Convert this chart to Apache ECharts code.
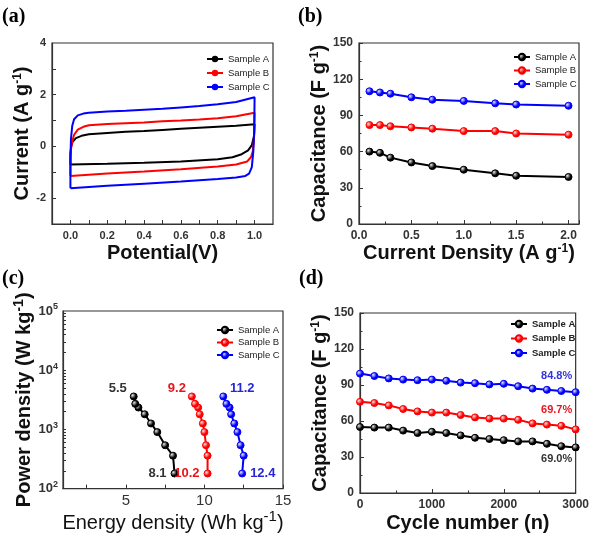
<!DOCTYPE html>
<html lang="en">
<head>
  <meta charset="UTF-8">
  <title>supercapacitor</title>
  <style>
    * { margin: 0; padding: 0; }
    #main { width: 592px; height: 534px; background: #fff; }
  </style>
</head>
<body>
  <div id="main"></div>
  <script src="https://cdn.jsdelivr.net/npm/echarts@6/dist/echarts.min.js"></script>
  <script>
    // ---- data ----
    var samples = ['Sample A', 'Sample B', 'Sample C'];
    var colors = ['#000000', '#ff0000', '#0000ff'];

    // (a) CV loops [potential, current]
    var cvA = [[0.0,-0.70],[0.0,-0.30],[0.004,0.0],[0.012,0.18],[0.03,0.32],[0.06,0.41],[0.1,0.47],[0.2,0.52],[0.3,0.57],[0.4,0.60],[0.5,0.64],[0.6,0.68],[0.7,0.72],[0.8,0.76],[0.9,0.80],[1.0,0.86],
               [0.997,0.40],[0.985,0.05],[0.965,-0.15],[0.93,-0.30],[0.88,-0.42],[0.8,-0.50],[0.6,-0.58],[0.4,-0.63],[0.2,-0.67],[0.0,-0.70]];
    var cvB = [[0.0,-1.14],[0.0,-0.40],[0.004,-0.05],[0.01,0.20],[0.02,0.45],[0.04,0.65],[0.07,0.76],[0.1,0.82],[0.2,0.87],[0.3,0.90],[0.4,0.93],[0.5,0.97],[0.6,1.00],[0.7,1.04],[0.8,1.09],[0.9,1.17],[1.0,1.30],
               [0.997,0.30],[0.99,-0.20],[0.98,-0.42],[0.96,-0.58],[0.9,-0.70],[0.8,-0.78],[0.6,-0.88],[0.4,-0.97],[0.2,-1.05],[0.0,-1.14]];
    var cvC = [[0.0,-1.62],[0.0,-0.50],[0.003,0.30],[0.01,0.80],[0.02,1.05],[0.04,1.20],[0.07,1.27],[0.1,1.30],[0.2,1.35],[0.3,1.38],[0.4,1.42],[0.5,1.46],[0.6,1.51],[0.7,1.56],[0.8,1.63],[0.9,1.72],[1.0,1.90],
               [0.998,0.60],[0.993,-0.20],[0.985,-0.80],[0.97,-1.05],[0.95,-1.14],[0.9,-1.20],[0.8,-1.26],[0.6,-1.36],[0.4,-1.44],[0.2,-1.52],[0.0,-1.62]];
    var aTicksX = [0, 0.1, 0.2, 0.3, 0.4, 0.5, 0.6, 0.7, 0.8, 0.9, 1.0];
    var aLabelsX = [0, 0.2, 0.4, 0.6, 0.8, 1.0];
    var aTicksY = [-2, -1, 0, 1, 2, 3];
    var aLabelsY = [-2, 0, 2, 4];

    // (b) rate capability
    var density = [0.1, 0.2, 0.3, 0.5, 0.7, 1.0, 1.3, 1.5, 2.0];
    var capA = [60, 59, 55, 51, 48, 45, 42, 40, 39];
    var capB = [82, 82, 81, 80, 79, 77, 77, 75, 74];
    var capC = [110, 109, 108, 105, 103, 102, 100, 99, 98];

    // (c) Ragone plot
    var power = [180, 360, 540, 900, 1260, 1800, 2340, 2700, 3600];
    var energyA = [8.1, 8.0, 7.5, 7.0, 6.6, 6.2, 5.8, 5.6, 5.5];
    var energyB = [10.2, 10.2, 10.1, 10.0, 9.9, 9.7, 9.6, 9.4, 9.2];
    var energyC = [12.4, 12.5, 12.3, 12.1, 11.9, 11.7, 11.6, 11.4, 11.2];
    var cTicksX = [2.5, 5, 7.5, 10, 12.5, 15];
    var cLabelsX = [5, 10, 15];
    var cTicksY = [200,300,400,500,600,700,800,900,1000,2000,3000,4000,5000,6000,7000,8000,9000,
                   10000,20000,30000,40000,50000,60000,70000,80000,90000];

    // (d) cycling
    var cycles = [0, 200, 400, 600, 800, 1000, 1200, 1400, 1600, 1800, 2000, 2200, 2400, 2600, 2800, 3000];
    var cycA = [55, 54.5, 54.5, 52, 50, 51, 50, 48, 46, 45, 44, 43, 43, 41, 39, 38];
    var cycB = [76, 75, 73, 70, 68, 67, 67, 65, 63, 62, 62, 61, 58, 57, 56, 53];
    var cycC = [99.5, 97.5, 95.5, 94.5, 94, 94.5, 93.5, 92, 91.5, 90.5, 91, 89, 87, 86, 85, 84];
    var retention = ['69.0%', '69.7%', '84.8%'];

    // ---- helpers ----
    var FONT = 'Arial, "Liberation Sans", sans-serif';
    var axisColor = '#333';
    var textColor = '#333';

    function pairs(xs, ys) {
      return xs.map(function (x, i) { return [x, ys[i]]; });
    }

    function ball(c) {
      return {
        type: 'radial', x: 0.35, y: 0.35, r: 0.7,
        colorStops: [{ offset: 0, color: '#e8e8e8' }, { offset: 0.6, color: c }, { offset: 1, color: c }]
      };
    }

    function titleRich(size, supSize, bold) {
      var w = bold ? 'bold' : 'normal';
      return {
        fontSize: size, fontWeight: w, color: '#111', fontFamily: FONT,
        rich: {
          t: { fontSize: size, fontWeight: w, color: '#111', fontFamily: FONT },
          s: { fontSize: supSize, fontWeight: w, color: '#111', fontFamily: FONT, padding: [0, 0, supSize * 0.8, 0] }
        }
      };
    }

    function baseAxis(grid, extra) {
      var ax = {
        gridIndex: grid,
        type: 'value',
        axisLine: { show: true, onZero: false, lineStyle: { color: axisColor, width: 1.2 } },
        axisTick: { inside: true, length: 4, lineStyle: { color: axisColor } },
        minorTick: { show: false },
        axisLabel: { fontSize: 12, fontWeight: 'bold', color: textColor, fontFamily: FONT, margin: 6,
                     formatter: function (v) { return String(v); } },
        splitLine: { show: false },
        nameLocation: 'middle'
      };
      for (var k in extra) {
        if (typeof extra[k] === 'object' && ax[k] && !Array.isArray(extra[k])) {
          for (var j in extra[k]) ax[k][j] = extra[k][j];
        } else {
          ax[k] = extra[k];
        }
      }
      return ax;
    }

    function legend(panel, left, top, gap, bold) {
      return {
        orient: 'vertical', left: left, top: top,
        itemWidth: 16, itemHeight: 8, itemGap: gap,
        data: samples.map(function (s) { return panel + '|' + s; }),
        formatter: function (n) { return n.split('|')[1]; },
        textStyle: { fontSize: 9.5, color: '#222', fontFamily: FONT, fontWeight: bold ? 'bold' : 'normal' },
        selectedMode: false
      };
    }

    var grids = [
      { left: 52, top: 43, width: 221, height: 181 },
      { left: 359, top: 43, width: 220, height: 181 },
      { left: 63, top: 311, width: 220, height: 183 },
      { left: 360, top: 313, width: 222, height: 181 }
    ].map(function (g) {
      g.show = true; g.borderColor = axisColor; g.borderWidth = 1.2; g.containLabel = false;
      return g;
    });

    var xAxes = [
      baseAxis(0, {
        min: -0.1, max: 1.1,
        axisTick: { customValues: aTicksX },
        axisLabel: { customValues: aLabelsX, fontSize: 11, formatter: function (v) { return v.toFixed(1); } },
        name: 'Potential(V)', nameGap: 19, nameTextStyle: titleRich(20, 12, true)
      }),
      baseAxis(1, {
        min: 0, max: 2.1, interval: 0.5,
        minorTick: { show: true, splitNumber: 2, length: 2.5, lineStyle: { color: axisColor } },
        axisLabel: { showMaxLabel: false, formatter: function (v) { return v.toFixed(1); } },
        name: '{t|Current Density (A g}{s|-1}{t|)}', nameGap: 18, nameTextStyle: titleRich(20, 12, true)
      }),
      baseAxis(2, {
        min: 1, max: 15,
        axisTick: { customValues: cTicksX },
        axisLabel: { customValues: cLabelsX, fontSize: 15, fontWeight: 'normal', margin: 5 },
        name: '{t|Energy density (Wh kg}{s|-1}{t|)}', nameGap: 20, nameTextStyle: titleRich(20, 15, false)
      }),
      baseAxis(3, {
        min: 0, max: 3000, interval: 1000,
        minorTick: { show: true, splitNumber: 2, length: 2.5, lineStyle: { color: axisColor } },
        name: 'Cycle number (n)', nameGap: 20, nameTextStyle: titleRich(20, 12, true)
      })
    ];

    var yAxes = [
      baseAxis(0, {
        min: -3, max: 4,
        axisTick: { customValues: aTicksY },
        axisLabel: { customValues: aLabelsY, fontSize: 11 },
        name: '{t|Current (A g}{s|-1}{t|)}', nameGap: 9, nameTextStyle: titleRich(20, 12, true)
      }),
      baseAxis(1, {
        min: 0, max: 150, interval: 30,
        minorTick: { show: true, splitNumber: 2, length: 2.5, lineStyle: { color: axisColor } },
        name: '{t|Capacitance (F g}{s|-1}{t|)}', nameGap: 21, nameTextStyle: titleRich(20, 12, true)
      }),
      baseAxis(2, {
        type: 'log', logBase: 10, min: 100, max: 100000,
        axisTick: { customValues: cTicksY, length: 3 },
        axisLabel: {
          margin: 5,
          formatter: function (v) { return '{b|10}{s|' + Math.round(Math.log10(v)) + '}'; },
          rich: {
            b: { fontSize: 13, fontWeight: 'bold', color: textColor, fontFamily: FONT },
            s: { fontSize: 9, fontWeight: 'bold', color: textColor, fontFamily: FONT, padding: [0, 0, 8, 0] }
          }
        },
        name: '{t|Power density (W kg}{s|-1}{t|)}', nameGap: 24, nameTextStyle: titleRich(20, 14, true)
      }),
      baseAxis(3, {
        min: 0, max: 150, interval: 30,
        minorTick: { show: true, splitNumber: 2, length: 2.5, lineStyle: { color: axisColor } },
        name: '{t|Capacitance (F g}{s|-1}{t|)}', nameGap: 21, nameTextStyle: titleRich(20, 12, true)
      })
    ];

    var series = [];

    // (a)
    [cvA, cvB, cvC].forEach(function (d, i) {
      series.push({
        name: 'a|' + samples[i], type: 'line', xAxisIndex: 0, yAxisIndex: 0,
        data: d, symbol: 'none', color: colors[i],
        lineStyle: { width: 2, color: colors[i] }, animation: false
      });
    });

    function dotSeries(panel, idx, data, i) {
      return {
        name: panel + '|' + samples[i], type: 'line', xAxisIndex: idx, yAxisIndex: idx,
        data: data, symbol: 'circle', symbolSize: 7, color: colors[i],
        itemStyle: { color: ball(colors[i]), borderColor: colors[i], borderWidth: 1 },
        lineStyle: { width: 2, color: colors[i] }, animation: false
      };
    }

    // (b)
    [capA, capB, capC].forEach(function (d, i) {
      series.push(dotSeries('b', 1, pairs(density, d), i));
    });

    // (c)
    var labelColors = ['#333', '#e8141b', '#2626d9'];
    var topOffset = [[-16, -8], [-15, -8], [19, -8]];
    var bottomPos = ['left', 'left', 'right'];
    [energyA, energyB, energyC].forEach(function (d, i) {
      var data = pairs(d, power).map(function (p, k) {
        var item = { value: p };
        var lbl = { show: true, fontSize: 13, fontWeight: 'bold', color: labelColors[i], fontFamily: FONT,
                    formatter: function (prm) { return prm.value[0].toFixed(1); } };
        if (k === 0) { lbl.position = bottomPos[i]; lbl.distance = 4; item.label = lbl; }
        if (k === d.length - 1) { lbl.position = 'inside'; lbl.offset = topOffset[i]; item.label = lbl; }
        return item;
      });
      series.push(dotSeries('c', 2, data, i));
    });

    // (d)
    var retOffset = [[-19, 12], [-19, -19], [-19, -16]];
    var retColors = ['#333', '#e8141b', '#3434e0'];
    [cycA, cycB, cycC].forEach(function (d, i) {
      var data = pairs(cycles, d).map(function (p, k) {
        var item = { value: p };
        if (k === d.length - 1) {
          item.label = { show: true, position: 'inside', offset: retOffset[i], formatter: retention[i],
                         fontSize: 11, fontWeight: 'bold', color: retColors[i], fontFamily: FONT };
        }
        return item;
      });
      var s = dotSeries('d', 3, data, i);
      s.clip = false;
      series.push(s);
    });

    var panelTitle = function (t, l, tp) {
      return { text: t, left: l, top: tp, padding: 0,
               textStyle: { fontFamily: '"Liberation Serif", "Times New Roman", serif', fontWeight: 'bold', fontSize: 20, color: '#000' } };
    };

    var option = {
      backgroundColor: '#fff',
      animation: false,
      title: [panelTitle('(a)', 2, 7), panelTitle('(b)', 298, 7), panelTitle('(c)', 2, 269), panelTitle('(d)', 299, 269)],
      grid: grids,
      xAxis: xAxes,
      yAxis: yAxes,
      legend: [
        legend('a', 201, 49, 4, false),
        legend('b', 508, 47, 3.5, false),
        legend('c', 211, 320, 2.5, false),
        legend('d', 505, 314, 4.5, true)
      ],
      series: series
    };

    var myCharts = echarts.init(document.getElementById('main'));
    myCharts.setOption(option);
  </script>
</body>
</html>
